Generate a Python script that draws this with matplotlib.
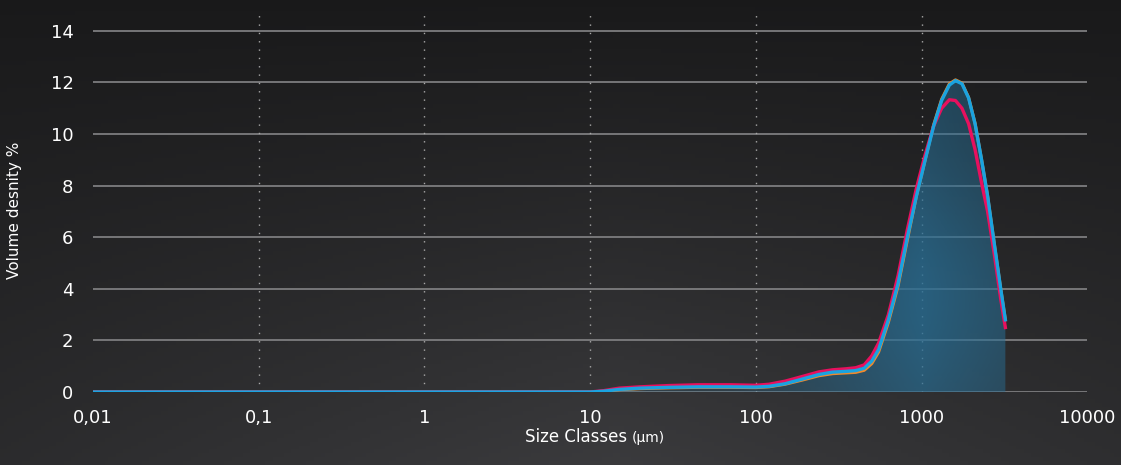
import matplotlib.pyplot as plt
import numpy as np

# size classes (um) and volume density (%) for the three measurements
sizes = [0.01, 0.1, 1, 5, 10, 12, 15, 20, 30, 45, 70, 100, 120, 150, 190, 240, 290,
         350, 400, 450, 500, 550, 630, 720, 820, 930, 1050, 1180, 1320, 1470, 1600,
         1750, 1920, 2100, 2300, 2500, 2750, 3000, 3200]
blue = [0, 0, 0, 0, 0, 0.03, 0.1, 0.15, 0.18, 0.2, 0.2, 0.19, 0.22, 0.32, 0.5, 0.68, 0.77,
        0.8, 0.83, 0.92, 1.2, 1.65, 2.8, 4.2, 6.0, 7.6, 9.0, 10.3, 11.3, 11.9, 12.07,
        11.95, 11.4, 10.4, 9.0, 7.6, 5.7, 4.0, 2.8]
pink = [0, 0, 0, 0, 0, 0.05, 0.15, 0.2, 0.25, 0.28, 0.28, 0.26, 0.3, 0.42, 0.6, 0.78, 0.86,
        0.9, 0.94, 1.05, 1.4, 1.9, 3.0, 4.5, 6.3, 7.9, 9.2, 10.3, 11.0, 11.33, 11.3,
        11.0, 10.4, 9.4, 8.1, 7.0, 5.3, 3.6, 2.5]
orange = [0, 0, 0, 0, 0, 0.03, 0.09, 0.13, 0.16, 0.18, 0.18, 0.17, 0.2, 0.3, 0.46, 0.63, 0.71,
          0.74, 0.76, 0.84, 1.1, 1.55, 2.7, 4.1, 5.9, 7.6, 9.0, 10.35, 11.35, 11.95, 12.1,
          11.98, 11.42, 10.42, 9.0, 7.6, 5.7, 4.0, 2.8]

xticks = [0.01, 0.1, 1, 10, 100, 1000, 10000]
xlabels = ["0,01", "0,1", "1", "10", "100", "1000", "10000"]
yticks = [0, 2, 4, 6, 8, 10, 12, 14]

plt.rcParams['font.family'] = ['DejaVu Sans']

fig = plt.figure(figsize=(11.21, 4.65), dpi=100)

# dark charcoal background, a little lighter towards the bottom middle
bg = fig.add_axes([0, 0, 1, 1])
gy, gx = np.mgrid[0:1:120j, 0:1:300j]
lum = 0.10 + 0.07 * gy + 0.06 * gy * np.clip(1 - np.abs(gx - 0.55) * 1.8, 0, 1)
img = np.dstack([lum, lum * 1.0, lum * 1.04])
bg.imshow(np.clip(img, 0, 1), aspect="auto", extent=[0, 1, 0, 1], origin="upper")
bg.axis("off")

ax = fig.add_axes([0.083, 0.157, 0.887, 0.821])
ax.patch.set_alpha(0)

ax.set_xscale("log")
ax.set_xlim(0.01, 10000)
ax.set_ylim(0, 14.8)

# teal area under the blue curve, brighter around the peak
area = ax.fill_between(sizes, blue, 0, color="none", lw=0)
hx = np.linspace(-2, 4, 600)
glow = np.clip(1 - np.abs(hx - 3.0) / 1.2, 0, 1)
vy = np.linspace(1, 0, 80)[:, None]
alpha = (0.25 + 0.55 * glow[None, :]) * (0.7 + 0.3 * np.exp(-((vy - 0.25) / 0.3) ** 2))
fill = np.zeros((80, 600, 4))
fill[..., 0] = 0.16
fill[..., 1] = 0.43
fill[..., 2] = 0.58
fill[..., 3] = np.clip(alpha, 0, 1)
im = ax.imshow(fill, extent=[0, 1, 0, 1], aspect="auto", origin="upper",
               zorder=2, transform=ax.transAxes)
im.set_clip_path(area.get_paths()[0], transform=ax.transData)

ax.plot(sizes, orange, color="#f08a2c", lw=2.2, zorder=3)
ax.plot(sizes, pink, color="#e8105e", lw=2.4, zorder=4)
ax.plot(sizes, blue, color="#1aa3e0", lw=2.4, zorder=5)

ax.set_xlim(0.01, 10000)
ax.set_ylim(0, 14.8)
ax.set_xticks(xticks)
ax.set_xticklabels(xlabels)
ax.minorticks_off()
ax.set_yticks(yticks)

for y in yticks:
    ax.axhline(y, color="#7d7d7f", lw=1.3, zorder=1)
for x in xticks[1:-1]:
    ax.axvline(x, color="#a8a8a8", lw=1, ls=(0, (1, 5)), zorder=1)

for s in ax.spines.values():
    s.set_visible(False)
ax.tick_params(length=0, colors="white", labelsize=13)
ax.tick_params(axis="x", pad=12)
ax.tick_params(axis="y", pad=14)

fig.text(15 / 1121, 0.548, "Volume desnity %", color="white", fontsize=11,
         rotation=90, ha="center", va="center")
fig.text(0.559, 0.06, "Size Classes", color="white", fontsize=12, ha="right", va="center")
fig.text(0.564, 0.058, "(µm)", color="white", fontsize=10, ha="left", va="center")

plt.savefig("out.png", dpi=100)
